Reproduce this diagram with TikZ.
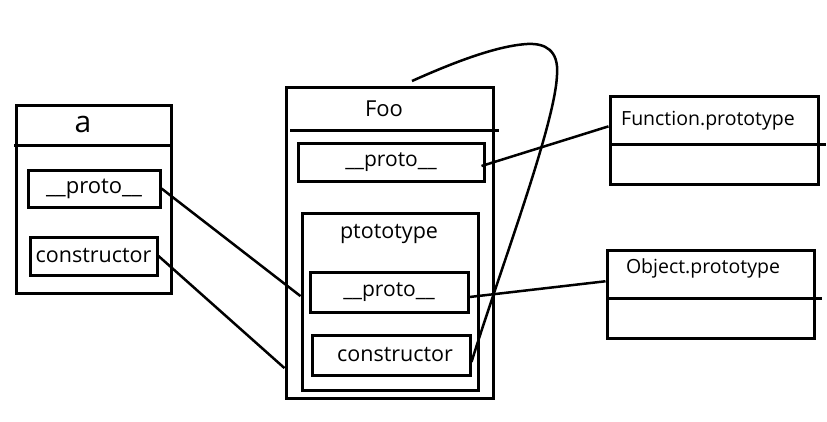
\documentclass[tikz,border=0pt]{standalone}
\usepackage{fontspec}
\setmainfont{Open Sans}
\usetikzlibrary{calc}

\tikzset{
  box/.style={draw, line width=3pt, inner sep=0pt},
  conn/.style={line width=2.5pt},
  fs/.style={font=\fontsize{#1}{#1}\selectfont},
}

\begin{document}
\begin{tikzpicture}[x=1pt,y=-1pt]
    \useasboundingbox (0,0) rectangle (827,421);

    % object a
    \node[box, minimum width=155pt, minimum height=188pt] (aobj) at (93.5,199) {};
    \draw[line width=3pt] (14,145) -- (173,145);
    \node[fs=30, inner sep=0pt] (atitle) at (83,124) {a};
    \node[box, fs=22, minimum width=132pt, minimum height=37pt] (aproto) at (94,188.5) {\_\_proto\_\_};
    \node[box, fs=21.5, minimum width=127pt, minimum height=38pt] (actor) at (93.5,256) {constructor\hspace{8pt}};

    % function Foo
    \node[box, minimum width=207pt, minimum height=311pt] (foo) at (389.5,242.5) {};
    \draw[line width=3pt] (290,130) -- (499,130);
    \node[fs=22, inner sep=0pt] (footitle) at (384,109) {Foo};
    \node[box, fs=21, minimum width=186pt, minimum height=38pt] (fproto) at (391,162) {\_\_proto\_\_\hspace{8pt}};
    \node[box, minimum width=176pt, minimum height=177pt] (fprot) at (390,301.5) {};
    \node[fs=21.5, inner sep=0pt] (prottitle) at (389,234) {ptototype};
    \node[box, fs=21, minimum width=158pt, minimum height=40pt] (pproto) at (389,292) {\_\_proto\_\_};
    \node[box, fs=21.5, minimum width=158pt, minimum height=40pt] (pctor) at (391,355) {\hspace{8pt}constructor};

    % prototypes on the right
    \node[box, minimum width=208pt, minimum height=88pt] (funcp) at (714,140) {};
    \draw[line width=3pt] (610,144) -- (826,144);
    \node[fs=19.5, inner sep=0pt] (functitle) at (708,121) {Function.prototype};
    \node[box, minimum width=207pt, minimum height=88pt] (objp) at (710.5,294) {};
    \draw[line width=3pt] (607,298) -- (822,298);
    \node[fs=19.5, inner sep=0pt] (objtitle) at (703,268) {Object.prototype};

    % links
    \coordinate (loopend) at (412,81);
    \draw[conn] (aproto.east) -- ($(fprot.north west)!0.47!(fprot.south west)$);
    \draw[conn] (actor.east) -- ($(foo.north west)!0.9!(foo.south west)$);
    \draw[conn] ([xshift=-4pt,yshift=-4pt]fproto.east) -- ($(funcp.north west)!0.35!(funcp.south west)$);
    \draw[conn] ([yshift=-5pt]pproto.east) -- ($(objp.north west)!0.36!(objp.south west)$);
    \draw[conn] ([yshift=-7pt]pctor.east) .. controls (500,270) and (555,125) .. (557,75)
        .. controls (559,50) and (545,43) .. (527,44)
        .. controls (495,46) and (450,64) .. (loopend);

\end{tikzpicture}
\end{document}
